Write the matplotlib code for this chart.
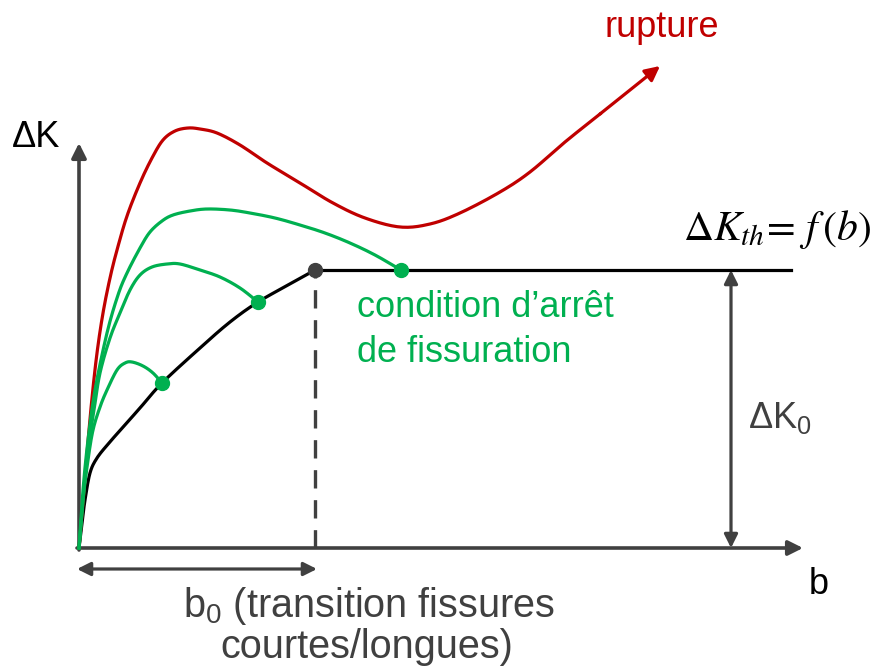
import matplotlib
matplotlib.use("Agg")
import matplotlib.pyplot as plt
import numpy as np

plt.rcParams['font.family'] = ['Liberation Sans', 'DejaVu Sans']

# --- data (schematic units, origin at axes origin) ---
black_b = [0, 3, 6, 11, 18, 30, 45, 61, 83, 121, 151, 179, 211, 236]
black_k = [0, 25, 48, 75, 90, 105, 122, 140, 165, 200, 226, 246, 264, 278]
plateau_b = [236, 712]
plateau_k = [278, 278]

red_b = [0, 4, 8, 13, 18, 24, 31, 38, 48, 61, 73, 84, 96, 109, 121, 138, 161,
         188, 221, 254, 286, 321, 351, 381, 421, 451, 486, 521]
red_k = [0, 45, 95, 150, 195, 235, 270, 298, 332, 365, 390, 408, 417, 420, 419,
         415, 403, 385, 365, 345, 330, 321, 324, 335, 356, 376, 406, 434]
red_tip = (581, 482)

g1_b = [0, 4, 9, 16, 28, 39, 48, 61, 71, 83, 94, 111, 128, 151, 171, 196, 221,
        246, 271, 296, 322]
g1_k = [0, 58, 108, 158, 215, 253, 275, 300, 316, 327, 333, 337, 339, 338, 335,
        330, 323, 315, 305, 293, 278]
g2_b = [0, 4, 9, 15, 21, 31, 41, 51, 61, 73, 88, 101, 121, 141, 161, 179]
g2_k = [0, 48, 98, 138, 175, 210, 235, 258, 273, 281, 284, 284, 278, 271, 260, 246]
g3_b = [0, 4, 9, 14, 21, 28, 38, 46, 53, 64, 74, 83]
g3_k = [0, 48, 88, 118, 141, 158, 178, 185, 186, 182, 175, 165]

arrest_b = [83, 179, 322]
arrest_k = [165, 246, 278]
b0 = 236
k0 = 278

RED = '#C00000'
GREEN = '#00B050'
GRAY = '#404040'


def smooth(xs, ys, n=12):
    """Catmull-Rom drawing path through the read points."""
    p = np.column_stack([xs, ys]).astype(float)
    p = np.vstack([2 * p[0] - p[1], p, 2 * p[-1] - p[-2]])
    out = []
    t = np.linspace(0, 1, n, endpoint=False)[:, None]
    for i in range(1, len(p) - 2):
        p0, p1, p2, p3 = p[i - 1], p[i], p[i + 1], p[i + 2]
        seg = 0.5 * ((2 * p1) + (-p0 + p2) * t +
                     (2 * p0 - 5 * p1 + 4 * p2 - p3) * t ** 2 +
                     (-p0 + 3 * p1 - 3 * p2 + p3) * t ** 3)
        out.append(seg)
    out.append(p[-2][None, :])
    out = np.vstack(out)
    return out[:, 0], out[:, 1]


fig = plt.figure(figsize=(8.86, 6.69), dpi=100)
ax = fig.add_axes([0, 0, 1, 1])
ax.set_xlim(-79, 807)
ax.set_ylim(-121, 548)
ax.axis('off')

# axes arrows
ax.annotate('', xy=(0, 405), xytext=(0, -2),
            arrowprops=dict(arrowstyle='-|>', color=GRAY, lw=2.6,
                            mutation_scale=22, shrinkA=0, shrinkB=0))
ax.annotate('', xy=(724, 0), xytext=(-2, 0),
            arrowprops=dict(arrowstyle='-|>', color=GRAY, lw=2.6,
                            mutation_scale=22, shrinkA=0, shrinkB=0))

# dashed b0 line
ax.plot([b0, b0], [0, k0], color=GRAY, lw=2.4, dashes=(5.5, 3.5), zorder=2)

# threshold curve
ax.plot(*smooth(black_b, black_k), color='black', lw=2.3,
        solid_capstyle='round', solid_joinstyle='round', zorder=3)
ax.plot(plateau_b, plateau_k, color='black', lw=2.3, zorder=3)

# red curve
ax.plot(*smooth(red_b, red_k), color=RED, lw=2.3, solid_joinstyle='round',
        zorder=4)
ax.annotate('', xy=red_tip, xytext=(red_b[-1], red_k[-1]),
            arrowprops=dict(arrowstyle='-|>', color=RED, lw=2.3,
                            mutation_scale=22, shrinkA=0, shrinkB=0))

# green curves
for bb, kk in [(g1_b, g1_k), (g2_b, g2_k), (g3_b, g3_k)]:
    ax.plot(*smooth(bb, kk), color=GREEN, lw=2.3, solid_joinstyle='round',
            zorder=4)

ax.plot(arrest_b, arrest_k, 'o', color=GREEN, ms=10, zorder=5)
ax.plot([b0], [k0], 'o', color=GRAY, ms=10, zorder=5)

# ΔK0 double arrow
ax.annotate('', xy=(652, k0), xytext=(652, 0),
            arrowprops=dict(arrowstyle='<|-|>', color=GRAY, lw=2.3,
                            mutation_scale=20, shrinkA=0, shrinkB=0))
# b0 double arrow
ax.annotate('', xy=(238, -21), xytext=(-2, -21),
            arrowprops=dict(arrowstyle='<|-|>', color=GRAY, lw=2.3,
                            mutation_scale=20, shrinkA=0, shrinkB=0))

# texts
fs = 26
ax.text(-67, 401, 'ΔK', fontsize=fs, color='black', ha='left', va='baseline')
ax.text(730, -46, 'b', fontsize=fs, color='black', ha='left', va='baseline')
ax.text(526, 511, 'rupture', fontsize=fs, color=RED, ha='left', va='baseline')
ax.text(278, 231, 'condition d’arrêt', fontsize=fs, color=GREEN,
        ha='left', va='baseline')
ax.text(278, 186, 'de fissuration', fontsize=fs, color=GREEN,
        ha='left', va='baseline')
ax.text(669, 120, r'ΔK$_\mathregular{0}$', fontsize=fs, color=GRAY,
        ha='left', va='baseline')
ax.text(290, -69, r'b$_\mathregular{0}$ (transition fissures', fontsize=28.5,
        color=GRAY, ha='center', va='baseline')
ax.text(288, -110, 'courtes/longues)', fontsize=28.5, color=GRAY,
        ha='center', va='baseline')
ax.text(604, 308, r'$\Delta K_{th}\!=\,f\,(b)$', fontsize=30, color='black',
        ha='left', va='baseline', math_fontfamily='stix')

fig.savefig('out.png', dpi=100)
